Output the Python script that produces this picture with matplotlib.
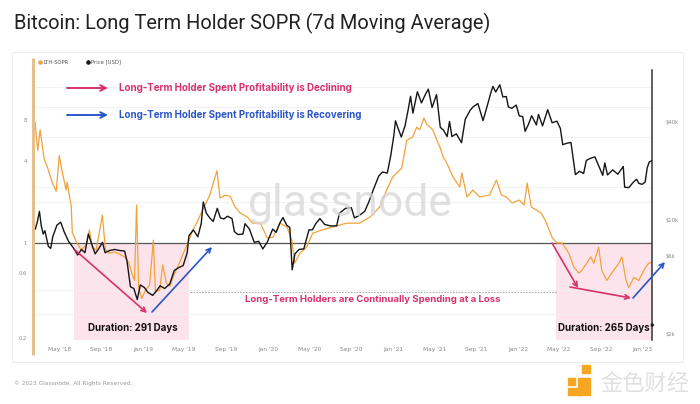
import matplotlib
matplotlib.use("Agg")
import matplotlib.pyplot as plt
import matplotlib.dates as mdates
from matplotlib.patches import Rectangle, FancyArrowPatch
import pandas as pd

# ---- data ----
sopr_dates = [
    "2018-02-19", "2018-02-27", "2018-03-06", "2018-03-18", "2018-03-26", "2018-04-10",
    "2018-04-22", "2018-05-01", "2018-05-10", "2018-05-21", "2018-05-24", "2018-06-05",
    "2018-06-08", "2018-06-20", "2018-07-04", "2018-07-19", "2018-07-28", "2018-08-06",
    "2018-08-17", "2018-09-04", "2018-09-13", "2018-09-25", "2018-10-10", "2018-10-24",
    "2018-11-08", "2018-11-20", "2018-11-29", "2018-12-07", "2018-12-13", "2018-12-19",
    "2018-12-28", "2019-01-08", "2019-01-20", "2019-01-31", "2019-02-06", "2019-02-19",
    "2019-02-27", "2019-03-10", "2019-03-20", "2019-04-01", "2019-04-18", "2019-05-03",
    "2019-05-12", "2019-05-24", "2019-06-08", "2019-07-01", "2019-07-15", "2019-08-05",
    "2019-08-14", "2019-08-29", "2019-09-13", "2019-09-27", "2019-10-12", "2019-11-02",
    "2019-11-17", "2019-12-10", "2019-12-30", "2020-01-16", "2020-02-05", "2020-02-26",
    "2020-03-11", "2020-03-19", "2020-04-03", "2020-04-23", "2020-05-11", "2020-06-09",
    "2020-07-08", "2020-08-18", "2020-09-25", "2020-10-25", "2020-11-23", "2020-12-13",
    "2020-12-31", "2021-01-26", "2021-02-10", "2021-02-27", "2021-03-11", "2021-03-20",
    "2021-04-01", "2021-04-10", "2021-04-19", "2021-04-27", "2021-05-09", "2021-05-18",
    "2021-05-27", "2021-06-07", "2021-06-25", "2021-07-15", "2021-07-21", "2021-08-05",
    "2021-08-22", "2021-09-11", "2021-10-10", "2021-10-30", "2021-11-14", "2021-11-28",
    "2021-12-15", "2022-01-05", "2022-01-19", "2022-01-28", "2022-02-09", "2022-02-23",
    "2022-03-10", "2022-03-24", "2022-04-11", "2022-04-25", "2022-05-10", "2022-05-30",
    "2022-06-13", "2022-06-28", "2022-07-07", "2022-07-21", "2022-08-02", "2022-08-11",
    "2022-08-25", "2022-09-03", "2022-09-18", "2022-10-02", "2022-10-23", "2022-11-01",
    "2022-11-13", "2022-11-21", "2022-12-06", "2022-12-20", "2023-01-04", "2023-01-18",
    "2023-01-27",
]
sopr_values = [
    7.8, 4.8, 6.8, 4.1, 3.7, 2.8,
    2.4, 4.4, 3.3, 2.45, 2.8, 1.85,
    1.2, 1.02, 0.89, 0.97, 1.25, 0.92,
    0.89, 1.6, 0.89, 0.84, 0.86, 0.83,
    0.79, 0.72, 0.6, 0.53, 1.9, 0.47,
    0.39, 0.45, 0.49, 1.05, 0.44, 0.45,
    0.69, 0.51, 0.48, 0.58, 0.72, 0.89,
    1.0, 1.2, 1.43, 1.9, 2.25, 3.4,
    2.14, 2.25, 2.2, 1.84, 1.66, 1.55,
    1.4, 1.4, 1.09, 1.1, 1.4, 1.31,
    1.05, 0.71, 0.84, 0.93, 1.18, 1.25,
    1.31, 1.4, 1.4, 1.55, 1.84, 2.45,
    3.06, 3.55, 5.7, 6.0, 7.1, 6.8,
    8.3, 7.4, 7.1, 6.8, 5.7, 5.07,
    4.3, 3.87, 3.06, 2.58, 3.27, 2.18,
    2.45, 2.18, 2.25, 2.9, 2.25, 2.18,
    1.97, 2.07, 1.9, 2.76, 1.84, 1.75,
    1.66, 1.43, 1.1, 1.0, 1.0, 0.84,
    0.67, 0.6, 0.63, 0.71, 0.79, 0.71,
    0.93, 0.63, 0.53, 0.6, 0.71, 0.79,
    0.53, 0.47, 0.56, 0.53, 0.63, 0.71,
    0.72,
]

price_dates = [
    "2018-02-20", "2018-02-25", "2018-03-04", "2018-03-09", "2018-03-15", "2018-03-20",
    "2018-03-30", "2018-04-06", "2018-04-12", "2018-04-24", "2018-05-05", "2018-05-15",
    "2018-05-28", "2018-06-10", "2018-06-24", "2018-07-05", "2018-07-15", "2018-07-25",
    "2018-08-05", "2018-08-14", "2018-08-25", "2018-09-04", "2018-09-12", "2018-09-25",
    "2018-10-10", "2018-10-25", "2018-11-08", "2018-11-15", "2018-11-25", "2018-12-05",
    "2018-12-15", "2018-12-24", "2019-01-05", "2019-01-15", "2019-01-29", "2019-02-08",
    "2019-02-20", "2019-03-05", "2019-03-20", "2019-04-02", "2019-04-15", "2019-04-28",
    "2019-05-10", "2019-05-15", "2019-05-28", "2019-06-10", "2019-06-20", "2019-06-26",
    "2019-07-05", "2019-07-15", "2019-07-25", "2019-08-06", "2019-08-15", "2019-08-25",
    "2019-09-05", "2019-09-18", "2019-09-25", "2019-10-05", "2019-10-20", "2019-10-26",
    "2019-11-08", "2019-11-22", "2019-12-05", "2019-12-17", "2019-12-30", "2020-01-15",
    "2020-01-25", "2020-02-05", "2020-02-14", "2020-02-25", "2020-03-05", "2020-03-12",
    "2020-03-20", "2020-04-01", "2020-04-15", "2020-04-30", "2020-05-10", "2020-05-20",
    "2020-06-01", "2020-06-15", "2020-07-01", "2020-07-20", "2020-07-28", "2020-08-15",
    "2020-09-01", "2020-09-10", "2020-09-25", "2020-10-10", "2020-10-22", "2020-11-05",
    "2020-11-20", "2020-12-01", "2020-12-15", "2020-12-25", "2021-01-03", "2021-01-08",
    "2021-01-15", "2021-01-25", "2021-02-05", "2021-02-15", "2021-02-21", "2021-02-28",
    "2021-03-13", "2021-03-25", "2021-04-05", "2021-04-14", "2021-04-25", "2021-05-08",
    "2021-05-19", "2021-05-28", "2021-06-08", "2021-06-15", "2021-06-22", "2021-07-05",
    "2021-07-20", "2021-07-31", "2021-08-14", "2021-08-23", "2021-09-06", "2021-09-21",
    "2021-10-01", "2021-10-15", "2021-10-20", "2021-10-28", "2021-11-09", "2021-11-18",
    "2021-11-28", "2021-12-04", "2021-12-14", "2021-12-27", "2022-01-05", "2022-01-15",
    "2022-01-22", "2022-02-01", "2022-02-10", "2022-02-24", "2022-03-02", "2022-03-14",
    "2022-03-29", "2022-04-11", "2022-04-25", "2022-05-05", "2022-05-12", "2022-05-25",
    "2022-06-05", "2022-06-13", "2022-06-18", "2022-06-30", "2022-07-12", "2022-07-20",
    "2022-07-30", "2022-08-14", "2022-08-25", "2022-09-06", "2022-09-12", "2022-09-20",
    "2022-10-05", "2022-10-20", "2022-11-05", "2022-11-09", "2022-11-21", "2022-12-05",
    "2022-12-14", "2022-12-20", "2022-12-30", "2023-01-08", "2023-01-14", "2023-01-20",
    "2023-01-27",
]
price_values = [
    8800, 9600, 11300, 9300, 8200, 8600,
    6900, 6700, 7900, 9300, 9700, 8500,
    7400, 6800, 6100, 6600, 6300, 8200,
    7000, 6200, 6700, 7300, 6300, 6500,
    6600, 6500, 6450, 5600, 3900, 3800,
    3250, 4000, 3850, 3600, 3450, 3650,
    3950, 3800, 4050, 4900, 5100, 5250,
    6300, 8000, 8700, 7900, 9500, 12900,
    11000, 10300, 9800, 11800, 10300, 10150,
    10550, 10200, 8500, 8150, 8200, 9500,
    8800, 7300, 7400, 6650, 7300, 8800,
    8400, 9600, 10350, 9300, 9000, 4950,
    6200, 6600, 6650, 8700, 8700, 9500,
    10200, 9400, 9200, 9200, 11000, 11800,
    11900, 10300, 10700, 11300, 12900, 15500,
    18600, 19700, 19400, 24700, 32800, 40600,
    36800, 32300, 37900, 48600, 57400, 45200,
    61200, 52300, 58700, 63500, 49000, 58800,
    37000, 35700, 32500, 40200, 32500, 33800,
    29800, 41500, 47000, 49500, 51800, 40700,
    48200, 61600, 66000, 61000, 67500, 56900,
    57200, 49400, 48400, 50700, 43500, 43100,
    35000, 38700, 43600, 38300, 44400, 37800,
    47500, 39500, 40400, 36500, 29000, 29600,
    29900, 22500, 19000, 19900, 19300, 23200,
    23800, 24400, 21500, 18800, 22400, 18900,
    20300, 19100, 21300, 15900, 15800, 17100,
    17800, 16800, 16550, 17100, 20900, 22700,
    23100,
]

sopr_ticks = [0.2, 0.6, 1, 4, 8]
sopr_tick_labels = ["0.2", "0.6", "1", "4", "8"]
price_ticks = [2000, 6000, 10000, 40000]
price_tick_labels = ["$2k", "$6k", "$10k", "$40k"]

# loss periods (SOPR below 1)
loss_periods = [("2018-06-14", "2019-05-16"), ("2022-04-23", "2023-01-28")]

sopr_t = pd.to_datetime(sopr_dates)
price_t = pd.to_datetime(price_dates)

# ---- colors ----
orange = "#f2a23a"
crimson = "#d7336b"
blue = "#2b56c9"
grey = "#8a8a8a"

fig = plt.figure(figsize=(7, 4.04), dpi=100)
fig.patch.set_facecolor("white")

# background card
bg = fig.add_axes([0, 0, 1, 1], zorder=0)
bg.set_xlim(0, 700)
bg.set_ylim(404, 0)
bg.axis("off")
bg.add_patch(Rectangle((12, 52), 671, 310, facecolor="white", edgecolor="#ededed", lw=0.8))

# main axes
ax = fig.add_axes([35 / 700, (404 - 340) / 404, 617 / 700, 270 / 404], zorder=2)
ax.patch.set_visible(False)
ax.set_yscale("log")
ax.set_ylim(0.1936, 18.7)
ax.set_xlim(pd.Timestamp("2018-02-19"), pd.Timestamp("2023-01-28"))

for start, end in loss_periods:
    ax.fill_between([pd.Timestamp(start), pd.Timestamp(end)], 0.1936, 1,
                    color="#fde4ec", lw=0, zorder=0)

for gy in [0.3, 0.45, 2, 2.6, 6, 10, 14]:
    ax.axhline(gy, color="#f0f0f0", lw=0.6, zorder=0)
ax.axhline(1, color="#555555", lw=0.9, zorder=3)

ax.plot(sopr_t, sopr_values, color=orange, lw=0.9, zorder=4)

ax.set_yticks(sopr_ticks)
ax.set_yticklabels(sopr_tick_labels)
ax.yaxis.set_minor_locator(matplotlib.ticker.NullLocator())
ax.tick_params(axis="y", length=0, labelsize=3.8, labelcolor=grey, pad=6)

ax.xaxis.set_major_locator(mdates.MonthLocator(bymonth=[1, 5, 9]))
ax.xaxis.set_major_formatter(mdates.DateFormatter("%b '%y"))
ax.tick_params(axis="x", length=0, labelsize=4.2, labelcolor=grey, pad=5)
for s in ax.spines.values():
    s.set_visible(False)

ax2 = ax.twinx()
ax2.set_yscale("log")
ax2.set_ylim(1837, 83200)
ax2.plot(price_t, price_values, color="#151515", lw=1.0, zorder=5)
ax2.set_yticks(price_ticks)
ax2.set_yticklabels(price_tick_labels)
ax2.yaxis.set_minor_locator(matplotlib.ticker.NullLocator())
ax2.tick_params(axis="y", length=0, labelsize=3.8, labelcolor=grey, pad=10)
for k, s in ax2.spines.items():
    s.set_visible(k == "right")
ax2.spines["right"].set_color("#333333")
ax2.spines["right"].set_linewidth(1.1)

# overlay for annotations (pixel coordinates)
ov = fig.add_axes([0, 0, 1, 1], zorder=6)
ov.set_xlim(0, 700)
ov.set_ylim(404, 0)
ov.axis("off")

ov.text(14, 23, "Bitcoin: Long Term Holder SOPR (7d Moving Average)", fontsize=14.4,
        family="Roboto", color="#222222", va="center", ha="left")

# left spine (SOPR axis)
ov.plot([32.5, 32.5], [58, 355], color="#e6c08c", lw=2.2, solid_capstyle="butt")

# legend
ov.scatter([40], [62], s=5, color=orange)
ov.text(43, 62, "LTH-SOPR", fontsize=3.8, color="#555555", va="center")
ov.scatter([88], [62], s=5, color="#151515")
ov.text(91, 62, "Price [USD]", fontsize=3.8, color="#555555", va="center")

# watermark
ov.text(350, 204, "glassnode", fontsize=32, color="#d6d6d6", alpha=0.75,
        ha="center", va="center", family="Roboto", zorder=1)

def arrow(p0, p1, color, lw=1.2, ms=8):
    ov.add_patch(FancyArrowPatch(p0, p1, arrowstyle="->", color=color, lw=lw,
                                 mutation_scale=ms, shrinkA=0, shrinkB=0))

# header legend arrows
arrow((67, 88), (108, 88), crimson, lw=1.4, ms=10)
ov.text(119, 88, "Long-Term Holder Spent Profitability is Declining", fontsize=7.0,
        fontweight="bold", color=crimson, va="center", family="Inter")
arrow((67, 115), (108, 115), blue, lw=1.4, ms=10)
ov.text(119, 115, "Long-Term Holder Spent Profitability is Recovering", fontsize=7.0,
        fontweight="bold", color=blue, va="center", family="Inter")

# arrows in loss periods
arrow((75, 250), (147, 313), crimson)
arrow((152, 312), (212, 247), blue)
arrow((552, 243), (578, 288), crimson)
arrow((570, 287), (631, 298), crimson)
arrow((633, 298), (665, 262), blue)

# dashed loss line and label
ov.plot([190, 557], [292, 292], color="#999999", lw=0.6, ls=(0, (2, 1.5)))
ov.text(373, 299, "Long-Term Holders are Continually Spending at a Loss", fontsize=6.9,
        fontweight="bold", color=crimson, ha="center", va="center", family="Inter")

ov.text(133, 328, "Duration: 291 Days", fontsize=7, fontweight="bold", color="#111111",
        ha="center", va="center", family="Inter")
ov.text(606, 328, "Duration: 265 Days*", fontsize=7, fontweight="bold", color="#111111",
        ha="center", va="center", family="Inter")

# footer
ov.text(14, 383, "\u00a9 2023 Glassnode. All Rights Reserved.", fontsize=4.2, color="#999999",
        va="center")
ov.add_patch(Rectangle((582, 365), 8, 8, color="#f5a623"))
ov.add_patch(Rectangle((568, 378), 7, 7, color="#f5a623"))
ov.add_patch(Rectangle((578, 378), 12, 17, color="#f5a623"))
ov.add_patch(Rectangle((568, 388), 14, 7, color="#f5a623"))
ov.text(645, 383, "金色财经", fontsize=16, color="#e0e0e0", ha="center", va="center",
        family=["Noto Sans CJK SC", "DejaVu Sans"])

fig.savefig("out.png", dpi=100)
